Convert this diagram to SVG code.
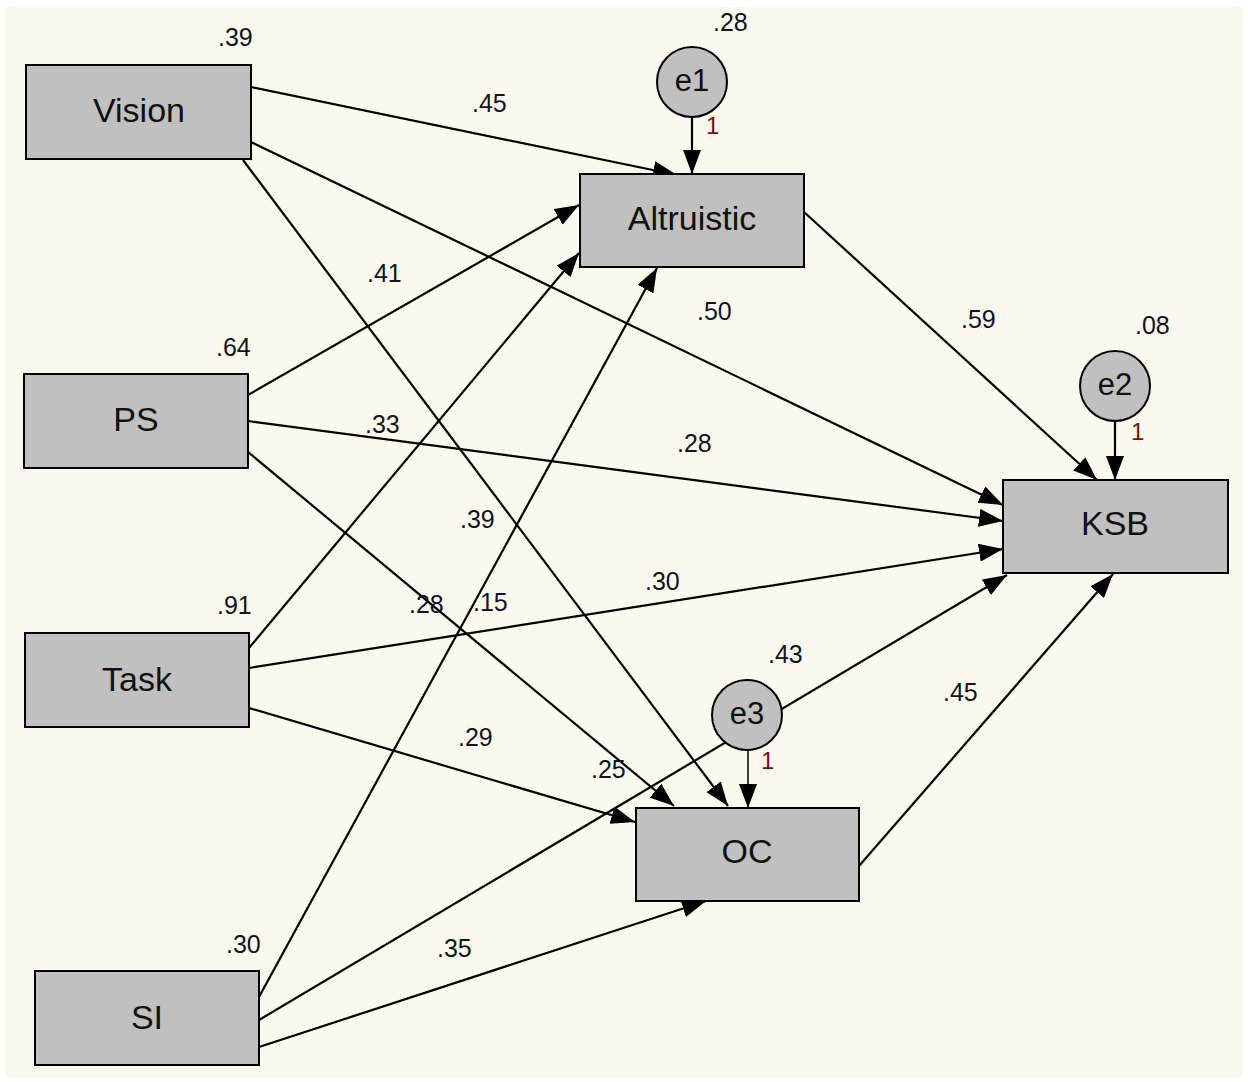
<svg xmlns="http://www.w3.org/2000/svg" width="1248" height="1082" viewBox="0 0 1248 1082">
<style>
.bx{fill:#C0C0C0;stroke:#000;stroke-width:2}
.ci{fill:#C0C0C0;stroke:#000;stroke-width:2}
.lb{font-family:"Liberation Sans",Arial,sans-serif;font-size:34px;fill:#111;text-anchor:middle}
.el{font-family:"Liberation Sans",Arial,sans-serif;font-size:31px;fill:#111;text-anchor:middle}
.nm{font-family:"Liberation Sans",Arial,sans-serif;font-size:25px;fill:#11131f}
.one{font-family:"Liberation Sans",Arial,sans-serif;font-size:24px;fill:#7a1010}
.ln{stroke:#000;stroke-width:2.2;fill:none;marker-end:url(#ah)}
</style>
<defs>
<marker id="ah" markerUnits="userSpaceOnUse" markerWidth="24" markerHeight="18" refX="24" refY="9" orient="auto">
<path d="M0,0 L24,9 L0,18 z" fill="#000"/>
</marker>
</defs>
<rect x="0" y="0" width="1248" height="1082" fill="#fff"/>
<rect x="6" y="7" width="1236" height="1070" fill="#FBF9EE"/>
<g id="connectors">
<line class="ln" x1="251" y1="87" x2="677" y2="175"/>
<line class="ln" x1="251" y1="142" x2="1003" y2="505"/>
<line class="ln" x1="243" y1="160" x2="728" y2="806"/>
<line class="ln" x1="248" y1="395" x2="579" y2="205"/>
<line class="ln" x1="248" y1="421" x2="1003" y2="521"/>
<line class="ln" x1="248" y1="452" x2="674" y2="806"/>
<line class="ln" x1="249" y1="648" x2="579" y2="253"/>
<line class="ln" x1="249" y1="668" x2="1003" y2="549"/>
<line class="ln" x1="249" y1="708" x2="635" y2="822"/>
<line class="ln" x1="259" y1="997" x2="657" y2="268"/>
<line class="ln" x1="259" y1="1020" x2="1007" y2="575"/>
<line class="ln" x1="259" y1="1047" x2="706" y2="901"/>
<line class="ln" x1="804" y1="212" x2="1097" y2="480"/>
<line class="ln" x1="859" y1="866" x2="1113" y2="574"/>
<line class="ln" x1="692" y1="117" x2="692" y2="174"/>
<line class="ln" x1="1115" y1="421" x2="1115" y2="480"/>
<line class="ln" x1="748" y1="750" x2="748" y2="808" style="stroke-width:1.5"/>
</g>
<g id="Vision"><rect class="bx" x="26" y="65" width="225" height="94"/><text class="lb" x="139" y="122">Vision</text></g>
<g id="PS"><rect class="bx" x="24" y="374" width="224" height="94"/><text class="lb" x="136" y="431">PS</text></g>
<g id="Task"><rect class="bx" x="25" y="633" width="224" height="94"/><text class="lb" x="137" y="691">Task</text></g>
<g id="SI"><rect class="bx" x="35" y="971" width="224" height="94"/><text class="lb" x="147" y="1029">SI</text></g>
<g id="Altruistic"><rect class="bx" x="580" y="174" width="224" height="93"/><text class="lb" x="692" y="230">Altruistic</text></g>
<g id="KSB"><rect class="bx" x="1003" y="480" width="225" height="93"/><text class="lb" x="1115" y="535">KSB</text></g>
<g id="OC"><rect class="bx" x="636" y="808" width="223" height="93"/><text class="lb" x="747" y="863">OC</text></g>
<g id="e1"><circle class="ci" cx="692" cy="82" r="35"/><text class="el" x="692" y="91">e1</text></g>
<g id="e2"><circle class="ci" cx="1115" cy="386" r="35"/><text class="el" x="1115" y="395">e2</text></g>
<g id="e3"><circle class="ci" cx="747" cy="715" r="35"/><text class="el" x="747" y="724">e3</text></g>
<g id="labels">
<text class="nm" x="218" y="46">.39</text>
<text class="nm" x="216" y="356">.64</text>
<text class="nm" x="217" y="614">.91</text>
<text class="nm" x="226" y="953">.30</text>
<text class="nm" x="713" y="31">.28</text>
<text class="nm" x="1135" y="334">.08</text>
<text class="nm" x="768" y="663">.43</text>
<text class="nm" x="472" y="112">.45</text>
<text class="nm" x="367" y="282">.41</text>
<text class="nm" x="697" y="320">.50</text>
<text class="nm" x="961" y="328">.59</text>
<text class="nm" x="365" y="433">.33</text>
<text class="nm" x="677" y="452">.28</text>
<text class="nm" x="460" y="528">.39</text>
<text class="nm" x="409" y="613">.28</text>
<text class="nm" x="473" y="611">.15</text>
<text class="nm" x="645" y="590">.30</text>
<text class="nm" x="943" y="701">.45</text>
<text class="nm" x="458" y="746">.29</text>
<text class="nm" x="591" y="778">.25</text>
<text class="nm" x="437" y="957">.35</text>
<text class="one" x="706" y="134">1</text>
<text class="one" x="1131" y="440">1</text>
<text class="one" x="761" y="769">1</text>
</g>
</svg>
